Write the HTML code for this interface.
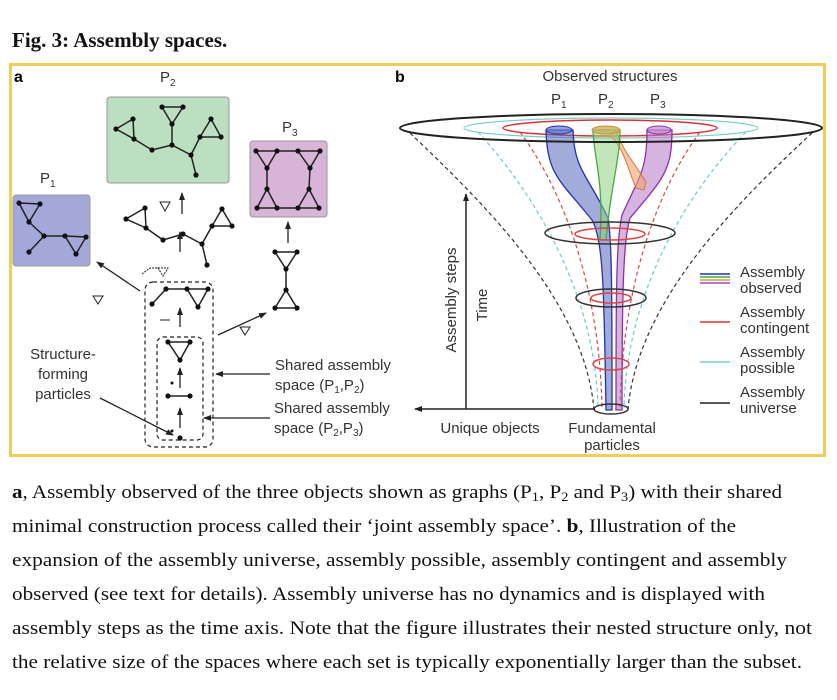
<!DOCTYPE html>
<html><head><meta charset="utf-8"><style>
html,body{margin:0;padding:0;background:#fff;}
svg{display:block;}
</style></head><body>
<svg width="837" height="700" viewBox="0 0 837 700" xmlns="http://www.w3.org/2000/svg" font-family="Liberation Sans, sans-serif">
<defs>
<marker id="ar" markerWidth="8" markerHeight="8" refX="7" refY="4" orient="auto" markerUnits="userSpaceOnUse"><path d="M0,1 L8,4 L0,7 Z" fill="#222"/></marker>
</defs>
<rect width="837" height="700" fill="#fff"/>
<text x="12" y="47" font-family="Liberation Serif, serif" font-weight="bold" font-size="21" fill="#111">Fig. 3: Assembly spaces.</text>
<rect x="10.5" y="64.5" width="814" height="391" fill="#fff" stroke="#f2cd5a" stroke-width="3"/>
<text x="14" y="82" font-weight="bold" font-size="16">a</text>
<text x="395" y="82" font-weight="bold" font-size="16">b</text>

<rect x="13" y="195" width="77" height="71" rx="3" fill="#a3a8d8" stroke="#999"/>
<rect x="107" y="97" width="122" height="86" rx="3" fill="#bcdfc1" stroke="#999"/>
<rect x="250" y="141" width="77" height="76" rx="3" fill="#d8b5d8" stroke="#999"/>
<g font-size="15" fill="#333">
<text x="40" y="183">P<tspan font-size="10" dy="4">1</tspan></text>
<text x="160" y="82">P<tspan font-size="10" dy="4">2</tspan></text>
<text x="282" y="132">P<tspan font-size="10" dy="4">3</tspan></text>
</g>
<g stroke="#222" stroke-width="1.5" fill="none">
<path d="M19,203L40,204L29,222Z M29,222L44,236L29,252 M44,236L65,236 M65,236L86,237L76,254Z"/>
<path d="M116,129L133,119L134,139Z M134,139L152,150L172,145L172,124 M162,107L183,107L172,124Z M172,145L191,155L200,137 M200,137L211,119L221,137Z M191,155L196,175"/>
<path d="M256,151L320,151 M256,151L267,168L277,151 M298,151L310,168L320,151 M267,168L267,189 M310,168L309,189 M257,208L267,189L277,208 M298,208L309,189L319,208 M257,208L319,208"/>
<path d="M126,219L145,208L146,228Z M146,228L163,240L183,234L202,244L212,226 M212,226L222,209L232,226Z M202,244L207,265"/>
<path d="M160,202L170,202L165,211Z" stroke-width="1"/>
<path d="M142,274L150,268L158,268 M158,268L168,268L163,276Z" stroke-width="1" stroke-dasharray="2,1"/>
<path d="M152,304L166,289L208,289L198,307L187,289"/>
<path d="M160,320L170,320" stroke-width="1"/>
<path d="M168,342L190,342L180,360Z"/>
<path d="M168,396L190,396"/>
<path d="M93,296L103,296L98,304Z M240,327L250,327L245,335Z" stroke-width="1"/>
<path d="M275,252L297,252L286,269Z M286,269L286,290 M286,290L275,308L297,308Z"/>
<rect x="145" y="282" width="68" height="165" rx="8" stroke-dasharray="4,3" stroke-width="1.2"/>
<rect x="157" y="337" width="46" height="103" rx="6" stroke-dasharray="4,3" stroke-width="1.2"/>
</g>
<g fill="#111">
<circle cx="19" cy="203" r="2.6"/><circle cx="40" cy="204" r="2.6"/><circle cx="29" cy="222" r="2.6"/><circle cx="44" cy="236" r="2.6"/><circle cx="29" cy="252" r="2.6"/><circle cx="65" cy="236" r="2.6"/><circle cx="86" cy="237" r="2.6"/><circle cx="76" cy="254" r="2.6"/>
<circle cx="116" cy="129" r="2.6"/><circle cx="133" cy="119" r="2.6"/><circle cx="134" cy="139" r="2.6"/><circle cx="152" cy="150" r="2.6"/><circle cx="172" cy="145" r="2.6"/><circle cx="172" cy="124" r="2.6"/><circle cx="162" cy="107" r="2.6"/><circle cx="183" cy="107" r="2.6"/><circle cx="191" cy="155" r="2.6"/><circle cx="200" cy="137" r="2.6"/><circle cx="211" cy="119" r="2.6"/><circle cx="221" cy="137" r="2.6"/><circle cx="196" cy="175" r="2.6"/>
<circle cx="256" cy="151" r="2.6"/><circle cx="277" cy="151" r="2.6"/><circle cx="298" cy="151" r="2.6"/><circle cx="320" cy="151" r="2.6"/><circle cx="267" cy="168" r="2.6"/><circle cx="310" cy="168" r="2.6"/><circle cx="267" cy="189" r="2.6"/><circle cx="309" cy="189" r="2.6"/><circle cx="257" cy="208" r="2.6"/><circle cx="277" cy="208" r="2.6"/><circle cx="298" cy="208" r="2.6"/><circle cx="319" cy="208" r="2.6"/>
<circle cx="126" cy="219" r="2.6"/><circle cx="145" cy="208" r="2.6"/><circle cx="146" cy="228" r="2.6"/><circle cx="163" cy="240" r="2.6"/><circle cx="183" cy="234" r="2.6"/><circle cx="202" cy="244" r="2.6"/><circle cx="212" cy="226" r="2.6"/><circle cx="222" cy="209" r="2.6"/><circle cx="232" cy="226" r="2.6"/><circle cx="207" cy="265" r="2.6"/>
<circle cx="152" cy="304" r="2.6"/><circle cx="166" cy="289" r="2.6"/><circle cx="187" cy="289" r="2.6"/><circle cx="208" cy="289" r="2.6"/><circle cx="198" cy="307" r="2.6"/>
<circle cx="168" cy="342" r="2.6"/><circle cx="190" cy="342" r="2.6"/><circle cx="180" cy="360" r="2.6"/>
<circle cx="172" cy="383" r="1.5"/><circle cx="168" cy="396" r="2.6"/><circle cx="190" cy="396" r="2.6"/><circle cx="172" cy="431" r="1.5"/><circle cx="180" cy="438" r="2.6"/>
<circle cx="275" cy="252" r="2.6"/><circle cx="297" cy="252" r="2.6"/><circle cx="286" cy="269" r="2.6"/><circle cx="286" cy="290" r="2.6"/><circle cx="275" cy="308" r="2.6"/><circle cx="297" cy="308" r="2.6"/>
</g>
<g stroke="#222" stroke-width="1.3" marker-end="url(#ar)">
<line x1="182" y1="214" x2="182" y2="193"/>
<line x1="180" y1="252" x2="180" y2="232"/>
<line x1="180" y1="327" x2="180" y2="308"/>
<line x1="180" y1="388" x2="180" y2="368"/>
<line x1="180" y1="428" x2="180" y2="408"/>
<line x1="288" y1="243" x2="288" y2="222"/>
<line x1="218" y1="335" x2="266" y2="313"/>
<line x1="140" y1="291" x2="97" y2="262"/>
<line x1="100" y1="398" x2="173" y2="435"/>
<line x1="270" y1="374" x2="216" y2="374"/>
<line x1="270" y1="418" x2="204" y2="418"/>
</g>
<g font-size="15" fill="#333">
<text x="63" y="359" text-anchor="middle">Structure-</text>
<text x="63" y="379" text-anchor="middle">forming</text>
<text x="63" y="399" text-anchor="middle">particles</text>
<text x="275" y="370">Shared assembly</text>
<text x="275" y="390">space (P<tspan font-size="10" dy="3">1</tspan><tspan dy="-3">,P</tspan><tspan font-size="10" dy="3">2</tspan><tspan dy="-3">)</tspan></text>
<text x="274" y="413">Shared assembly</text>
<text x="274" y="433">space (P<tspan font-size="10" dy="3">2</tspan><tspan dy="-3">,P</tspan><tspan font-size="10" dy="3">3</tspan><tspan dy="-3">)</tspan></text>
</g>

<g fill="none" stroke-width="1.2">
<path d="M410,133 C480,200 585,300 594,410" stroke="#333" stroke-dasharray="4,3"/>
<path d="M812,133 C740,200 637,300 628,410" stroke="#333" stroke-dasharray="4,3"/>
<path d="M478,132 C540,200 596,300 598,408" stroke="#6cc" stroke-dasharray="4,3"/>
<path d="M746,132 C680,200 626,300 624,408" stroke="#6cc" stroke-dasharray="4,3"/>
<path d="M520,132 C570,200 600,300 602,408" stroke="#d44" stroke-dasharray="4,3"/>
<path d="M700,132 C650,200 622,300 620,408" stroke="#d44" stroke-dasharray="4,3"/>
<ellipse cx="611" cy="128" rx="147" ry="10" stroke="#7cc"/>
<ellipse cx="610" cy="128" rx="107" ry="8" stroke="#d33" stroke-width="1.5"/>
</g>
<path d="M546,130 C547,175 560,180 592,220 C604,240 604,300 606,410 L612,410 C612,300 612,240 608,218 C588,175 574,170 573,130 Z" fill="#5566bb" fill-opacity="0.55" stroke="#2233aa" stroke-width="1.3"/>
<path d="M647,130 C647,170 640,175 622,215 C616,240 616,300 616,410 L622,410 C622,300 623,240 630,218 C664,178 672,170 672,130 Z" fill="#b777c7" fill-opacity="0.55" stroke="#8833aa" stroke-width="1.3"/>
<path d="M610,135 C625,150 628,170 636,188 L644,190 L646,182 C636,165 622,150 616,130 Z" fill="#f0a070" fill-opacity="0.6" stroke="#d77a30"/>
<path d="M593,130 C594,160 604,180 600,240 L606,240 C610,190 620,160 620,130 Z" fill="#8fcf80" fill-opacity="0.55" stroke="#44aa44" stroke-width="1.3"/>
<ellipse cx="559" cy="130" rx="13" ry="4" fill="#6677cc" fill-opacity="0.7" stroke="#2233aa"/>
<ellipse cx="606" cy="130" rx="14" ry="4" fill="#c9b060" fill-opacity="0.8" stroke="#c89030"/>
<ellipse cx="659" cy="130" rx="12" ry="4" fill="#c58ad2" fill-opacity="0.7" stroke="#8833aa"/>
<g fill="none" stroke-width="1.5">
<ellipse cx="611" cy="128" rx="211" ry="14" stroke="#222" stroke-width="2"/>
<ellipse cx="610" cy="233" rx="65" ry="11" stroke="#333"/>
<ellipse cx="610" cy="234" rx="35" ry="6" stroke="#d44"/>
<ellipse cx="611" cy="298" rx="35" ry="9" stroke="#333"/>
<ellipse cx="611" cy="298" rx="20" ry="5" stroke="#d44"/>
<ellipse cx="611" cy="364" rx="18" ry="6" stroke="#d44"/>
<ellipse cx="611" cy="409" rx="17" ry="5" stroke="#333"/>
</g>
<g stroke="#222" stroke-width="1.5" marker-end="url(#ar)">
<line x1="466" y1="409" x2="466" y2="194"/>
<line x1="595" y1="409" x2="415" y2="409"/>
</g>
<g font-size="15" fill="#333">
<text x="610" y="81" text-anchor="middle">Observed structures</text>
<text x="551" y="104">P<tspan font-size="10" dy="4">1</tspan></text>
<text x="598" y="104">P<tspan font-size="10" dy="4">2</tspan></text>
<text x="650" y="104">P<tspan font-size="10" dy="4">3</tspan></text>
<text transform="translate(456,300) rotate(-90)" text-anchor="middle">Assembly steps</text>
<text transform="translate(487,305) rotate(-90)" text-anchor="middle">Time</text>
<text x="490" y="433" text-anchor="middle">Unique objects</text>
<text x="612" y="433" text-anchor="middle">Fundamental</text>
<text x="612" y="450" text-anchor="middle">particles</text>
<text x="740" y="277">Assembly</text><text x="740" y="293">observed</text>
<text x="740" y="317">Assembly</text><text x="740" y="333">contingent</text>
<text x="740" y="357">Assembly</text><text x="740" y="373">possible</text>
<text x="740" y="397">Assembly</text><text x="740" y="413">universe</text>
</g>
<g stroke-width="1.6">
<line x1="700" y1="274" x2="730" y2="274" stroke="#2233aa"/>
<line x1="700" y1="277" x2="730" y2="277" stroke="#44aa44"/>
<line x1="700" y1="280" x2="730" y2="280" stroke="#d8a030"/>
<line x1="700" y1="283" x2="730" y2="283" stroke="#aa44bb"/>
<line x1="700" y1="322" x2="730" y2="322" stroke="#d33"/>
<line x1="700" y1="362" x2="730" y2="362" stroke="#7cc"/>
<line x1="700" y1="403" x2="730" y2="403" stroke="#222"/>
</g>

<g font-family="Liberation Serif, serif" font-size="19" fill="#111">
<text x="12" y="498" textLength="770" lengthAdjust="spacingAndGlyphs"><tspan font-weight="bold">a</tspan>, Assembly observed of the three objects shown as graphs (P<tspan font-size="13" dy="3">1</tspan><tspan dy="-3">, P</tspan><tspan font-size="13" dy="3">2</tspan><tspan dy="-3"> and P</tspan><tspan font-size="13" dy="3">3</tspan><tspan dy="-3">) with their shared</tspan></text>
<text x="12" y="532" textLength="724" lengthAdjust="spacingAndGlyphs">minimal construction process called their ‘joint assembly space’. <tspan font-weight="bold">b</tspan>, Illustration of the</text>
<text x="12" y="566" textLength="775" lengthAdjust="spacingAndGlyphs">expansion of the assembly universe, assembly possible, assembly contingent and assembly</text>
<text x="12" y="600" textLength="753" lengthAdjust="spacingAndGlyphs">observed (see text for details). Assembly universe has no dynamics and is displayed with</text>
<text x="12" y="634" textLength="800" lengthAdjust="spacingAndGlyphs">assembly steps as the time axis. Note that the figure illustrates their nested structure only, not</text>
<text x="12" y="668" textLength="790" lengthAdjust="spacingAndGlyphs">the relative size of the spaces where each set is typically exponentially larger than the subset.</text>
</g>
</svg>
</body></html>
